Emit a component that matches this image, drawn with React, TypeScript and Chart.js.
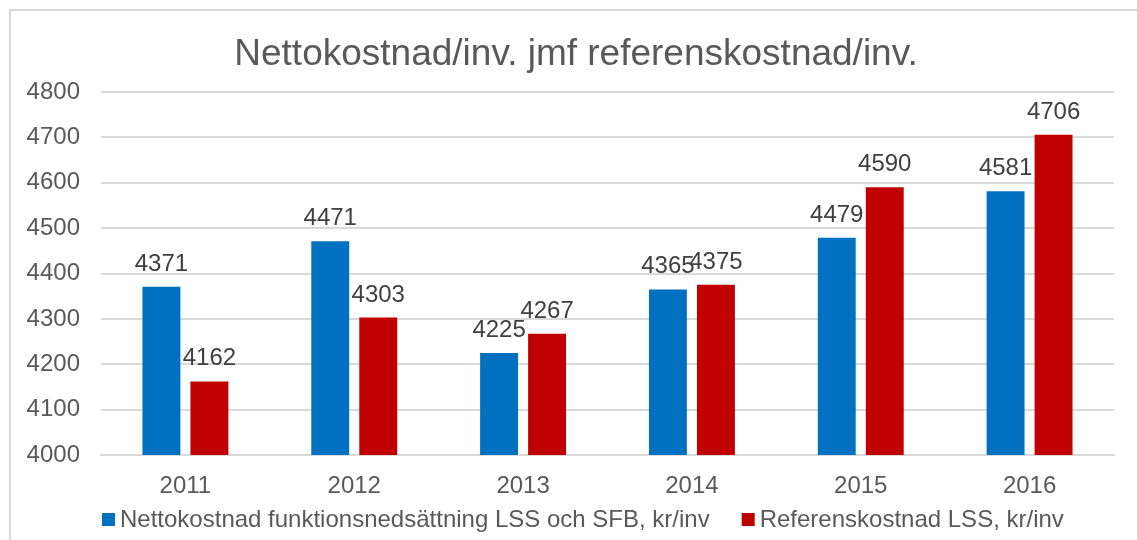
import React, { useEffect, useRef } from "react";
import { Chart, registerables } from "chart.js";

Chart.register(...registerables);

const TITLE = "Nettokostnad/inv. jmf referenskostnad/inv.";
const years = ["2011", "2012", "2013", "2014", "2015", "2016"];
const nettokostnad = [4371, 4471, 4225, 4365, 4479, 4581];
const referenskostnad = [4162, 4303, 4267, 4375, 4590, 4706];
const seriesLabels = [
  "Nettokostnad funktionsnedsättning LSS och SFB, kr/inv",
  "Referenskostnad LSS, kr/inv",
];
const seriesColors = ["#0070C0", "#C00000"];
const yMin = 4000;
const yMax = 4800;
const yStep = 100;

const FONT = "'Liberation Sans', Arial, sans-serif";

const titlePlugin = {
  id: "customTitle",
  afterDraw(chart: any) {
    const ctx = chart.ctx;
    ctx.save();
    ctx.font = `37px ${FONT}`;
    ctx.fillStyle = "#595959";
    ctx.textAlign = "center";
    ctx.textBaseline = "alphabetic";
    ctx.fillText(TITLE, 576, 65);
    ctx.restore();
  },
};

const dataLabelPlugin = {
  id: "dataLabels",
  afterDatasetsDraw(chart: any) {
    const ctx = chart.ctx;
    ctx.save();
    ctx.font = `24px ${FONT}`;
    ctx.fillStyle = "#404040";
    ctx.textAlign = "center";
    ctx.textBaseline = "alphabetic";
    chart.data.datasets.forEach((ds: any, i: number) => {
      const meta = chart.getDatasetMeta(i);
      meta.data.forEach((bar: any, j: number) => {
        ctx.fillText(String(ds.data[j]), bar.x, bar.y - 16);
      });
    });
    ctx.restore();
  },
};

const legendPlugin = {
  id: "customLegend",
  afterDraw(chart: any) {
    const ctx = chart.ctx;
    ctx.save();
    ctx.font = `24px ${FONT}`;
    ctx.textBaseline = "alphabetic";
    ctx.textAlign = "left";
    const baseY = 527;
    let x = 102;
    chart.data.datasets.forEach((ds: any) => {
      ctx.fillStyle = ds.backgroundColor;
      ctx.fillRect(x, baseY - 14, 13, 13);
      ctx.fillStyle = "#595959";
      ctx.fillText(ds.label, x + 18, baseY);
      const w = ctx.measureText(ds.label).width;
      x = x + 18 + w + 32;
    });
    ctx.restore();
  },
};

export default function App() {
  const canvasRef = useRef<HTMLCanvasElement>(null);

  useEffect(() => {
    if (!canvasRef.current) return;
    const chart = new Chart(canvasRef.current, {
      type: "bar",
      data: {
        labels: years,
        datasets: [
          {
            label: seriesLabels[0],
            data: nettokostnad,
            backgroundColor: seriesColors[0],
            categoryPercentage: 0.5686,
            barPercentage: 0.79,
          },
          {
            label: seriesLabels[1],
            data: referenskostnad,
            backgroundColor: seriesColors[1],
            categoryPercentage: 0.5686,
            barPercentage: 0.79,
          },
        ],
      },
      options: {
        responsive: false,
        animation: false,
        events: [],
        layout: { padding: { top: 92, right: 23, bottom: 40, left: 0 } },
        plugins: {
          legend: { display: false },
          title: { display: false },
          tooltip: { enabled: false },
        },
        scales: {
          x: {
            grid: { display: false, drawTicks: false },
            border: { display: true, color: "#d9d9d9", width: 2 },
            ticks: {
              color: "#595959",
              font: { family: FONT, size: 24 },
              padding: 17,
            },
            afterFit(scale: any) {
              scale.height = 45;
            },
          },
          y: {
            min: yMin,
            max: yMax,
            grid: { color: "#d9d9d9", lineWidth: 2, drawTicks: false },
            border: { display: false },
            ticks: {
              stepSize: yStep,
              color: "#595959",
              font: { family: FONT, size: 24 },
              padding: 21,
              callback: (value: any) => String(value),
            },
            afterFit(scale: any) {
              scale.width = 101;
            },
          },
        },
      },
      plugins: [titlePlugin, dataLabelPlugin, legendPlugin],
    });
    return () => chart.destroy();
  }, []);

  return (
    <div
      style={{
        position: "fixed",
        left: 0,
        top: 0,
        width: 1137,
        height: 540,
        overflow: "hidden",
        background: "#ffffff",
      }}
    >
      <div
        style={{
          position: "absolute",
          left: 9,
          top: 9,
          width: 1200,
          height: 600,
          border: "2px solid #d9d9d9",
        }}
      />
      <canvas
        ref={canvasRef}
        width={1137}
        height={540}
        style={{ position: "absolute", left: 0, top: 0 }}
      />
    </div>
  );
}
